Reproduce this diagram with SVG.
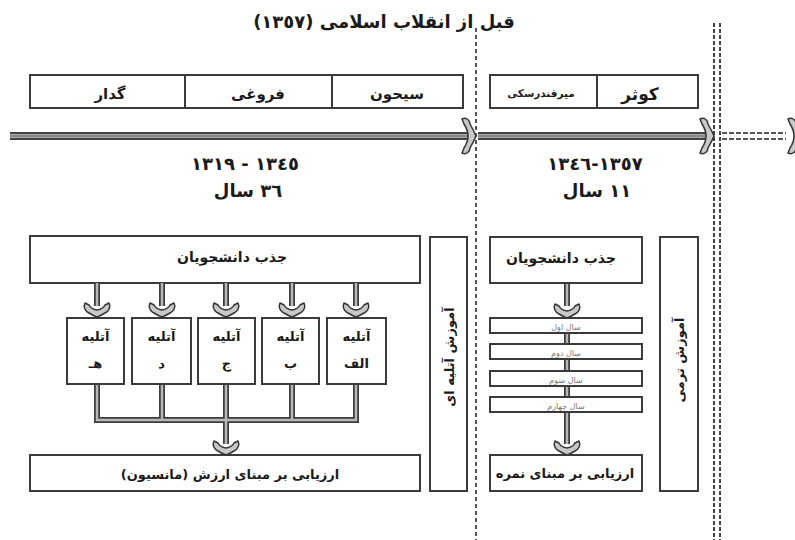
<svg xmlns="http://www.w3.org/2000/svg" xmlns:xlink="http://www.w3.org/1999/xlink" width="795" height="540" viewBox="0 0 795 540">
<style>
.box{fill:#fff;stroke:#3a3a3a;stroke-width:2}
.t{font-family:"DejaVu Sans","Noto Sans",sans-serif;font-weight:bold;fill:#1a1a1a;text-anchor:middle;direction:rtl}
.num{font-family:"DejaVu Sans","Noto Sans",sans-serif;font-weight:bold;fill:#1a1a1a;text-anchor:middle;direction:ltr;unicode-bidi:bidi-override;letter-spacing:1px}
.yr{font-family:"DejaVu Sans","Noto Sans",sans-serif;fill:#777;text-anchor:middle;direction:rtl;font-size:8px}
.po{fill:none;stroke:#3c3c3c;stroke-width:6}
.pi{fill:none;stroke:#b8b8b8;stroke-width:2.5}
.to{fill:none;stroke:#444;stroke-width:8}
.ti{fill:none;stroke:#aaa;stroke-width:4}
.tc{fill:none;stroke:#666;stroke-width:1}
.dash1{stroke:#555;stroke-width:2;stroke-dasharray:4 3;fill:none}
.dash2{stroke:#444;stroke-width:2;stroke-dasharray:4 2;fill:none}
.dashT{stroke:#555;stroke-width:2;stroke-dasharray:5 2;fill:none}
.head{fill:#c8c8c8;stroke:#333;stroke-width:1.5;stroke-linejoin:round}
</style>
<defs>
<path id="hd" class="head" d="M-12,-14 C-14,-10 -12,-6 -8,-4 Q-3,-1 0,0 Q3,-1 8,-4 C12,-6 14,-10 12,-14 L8,-12 Q6,-8 0,-7 Q-6,-8 -8,-12 Z"/>
<path id="hr" class="head" d="M-14,-17 C-10,-19 -6,-16 -6,-12 Q-2,-5 0,0 Q-2,5 -6,12 C-6,16 -10,19 -14,17 L-12,12 Q-8,6 -8,0 Q-8,-6 -12,-12 Z"/>
</defs>

<!-- title -->
<text class="t" x="384" y="28" font-size="18">قبل از انقلاب اسلامی (١٣٥٧)</text>

<!-- separators -->
<g id="separators">
<line class="dash1" x1="476" y1="28" x2="476" y2="540"/>
<line class="dash2" x1="714" y1="23" x2="714" y2="540"/>
<line class="dash2" x1="720" y1="23" x2="720" y2="540"/>
</g>

<!-- top period boxes -->
<g id="periods-left">
<rect class="box" x="30" y="75" width="433" height="33"/>
<line class="box" x1="185" y1="75" x2="185" y2="108"/>
<line class="box" x1="332" y1="75" x2="332" y2="108"/>
<text class="t" x="110" y="99" font-size="15">گدار</text>
<text class="t" x="258" y="99" font-size="15">فروغی</text>
<text class="t" x="397" y="99" font-size="15">سیحون</text>
</g>
<g id="periods-right">
<rect class="box" x="490" y="75" width="208" height="33"/>
<line class="box" x1="597" y1="75" x2="597" y2="108"/>
<text class="t" x="541" y="97" font-size="10.5">میرفندرسکی</text>
<text class="t" x="640" y="100" font-size="17">کوثر</text>
</g>

<!-- dates -->
<g id="dates-left">
<text class="num" x="245" y="170" font-size="18">١٣١٩ - ١٣٤٥</text>
<text class="t" x="248" y="197" font-size="18">٣٦ سال</text>
</g>
<g id="dates-right">
<text class="num" x="595" y="170" font-size="18">١٣٤٦-١٣٥٧</text>
<text class="t" x="597" y="197" font-size="18">١١ سال</text>
</g>

<!-- left section nodes -->
<g id="attract-left">
<rect class="box" x="30" y="236" width="390" height="47"/>
<text class="t" x="232" y="262" font-size="14">جذب دانشجویان</text>
</g>
<g id="atelier-e">
<rect class="box" x="67" y="318" width="57" height="66"/>
<text class="t" x="95.5" y="341" font-size="13">آتلیه</text>
<text class="t" x="95.5" y="368" font-size="13">هـ</text>
</g>
<g id="atelier-d">
<rect class="box" x="132" y="318" width="59" height="66"/>
<text class="t" x="161.5" y="341" font-size="13">آتلیه</text>
<text class="t" x="161.5" y="368" font-size="13">د</text>
</g>
<g id="atelier-j">
<rect class="box" x="198" y="318" width="57" height="66"/>
<text class="t" x="226.5" y="341" font-size="13">آتلیه</text>
<text class="t" x="226.5" y="368" font-size="13">ج</text>
</g>
<g id="atelier-b">
<rect class="box" x="262" y="318" width="57" height="66"/>
<text class="t" x="290.5" y="341" font-size="13">آتلیه</text>
<text class="t" x="290.5" y="368" font-size="13">ب</text>
</g>
<g id="atelier-a">
<rect class="box" x="327" y="318" width="59" height="66"/>
<text class="t" x="356.5" y="341" font-size="13">آتلیه</text>
<text class="t" x="356.5" y="368" font-size="13">الف</text>
</g>
<g id="eval-left">
<rect class="box" x="30" y="455" width="390" height="36"/>
<text class="t" x="230" y="479" font-size="13">ارزیابی بر مبنای ارزش (مانسیون)</text>
</g>
<g id="atelier-edu">
<rect class="box" x="430" y="237" width="37" height="254"/>
<text class="t" transform="translate(454,357) rotate(-90)" x="0" y="0" font-size="13">آموزش آتلیه ای</text>
</g>

<!-- connectors -->
<g id="connectors">
<!-- timeline -->
<path class="to" d="M10,136 H468"/><path class="ti" d="M10,136 H468"/><path class="tc" d="M10,136 H468"/>
<path class="to" d="M478,136 H707"/><path class="ti" d="M478,136 H707"/><path class="tc" d="M478,136 H707"/>
<use xlink:href="#hr" x="476" y="136"/>
<use xlink:href="#hr" x="714" y="136"/>
<line class="dashT" x1="722" y1="133" x2="786" y2="133"/>
<line class="dashT" x1="722" y1="139" x2="786" y2="139"/>
<use xlink:href="#hr" x="802" y="136"/>

<!-- left arrows down to ateliers -->
<path class="po" d="M97,283 V306 M162,283 V306 M226,283 V306 M292,283 V306 M356,283 V306"/>
<path class="pi" d="M97,283 V306 M162,283 V306 M226,283 V306 M292,283 V306 M356,283 V306"/>
<use xlink:href="#hd" x="97" y="317"/>
<use xlink:href="#hd" x="162" y="317"/>
<use xlink:href="#hd" x="226" y="317"/>
<use xlink:href="#hd" x="292" y="317"/>
<use xlink:href="#hd" x="356" y="317"/>
<!-- merge -->
<path class="po" d="M97,385 V420 H356 V385 M162,385 V420 M226,385 V444 M292,385 V420"/>
<path class="pi" d="M97,385 V420 H356 V385 M162,385 V420 M226,385 V444 M292,385 V420"/>
<use xlink:href="#hd" x="226" y="455"/>

<!-- right column -->
<path class="po" d="M567,283 V306 M567,333 V397 M567,413 V444"/>
<path class="pi" d="M567,283 V306 M567,333 V397 M567,413 V444"/>
<use xlink:href="#hd" x="567" y="318"/>
<use xlink:href="#hd" x="567" y="455"/>
</g>

<!-- right section nodes -->
<g id="attract-right">
<rect class="box" x="490" y="237" width="152" height="46"/>
<text class="t" x="561" y="263" font-size="14">جذب دانشجویان</text>
</g>
<g id="year-1">
<rect class="box" x="490" y="318" width="152" height="15"/>
<text class="yr" x="566" y="330">سال اول</text>
</g>
<g id="year-2">
<rect class="box" x="490" y="344" width="152" height="15"/>
<text class="yr" x="566" y="356">سال دوم</text>
</g>
<g id="year-3">
<rect class="box" x="490" y="371" width="152" height="15"/>
<text class="yr" x="566" y="383">سال سوم</text>
</g>
<g id="year-4">
<rect class="box" x="490" y="397" width="152" height="15"/>
<text class="yr" x="566" y="409">سال چهارم</text>
</g>
<g id="eval-right">
<rect class="box" x="490" y="455" width="152" height="36"/>
<text class="t" x="565" y="478" font-size="13">ارزیابی بر مبنای نمره</text>
</g>
<g id="term-edu">
<rect class="box" x="660" y="237" width="38" height="254"/>
<text class="t" transform="translate(684,360) rotate(-90)" x="0" y="0" font-size="13">آموزش ترمی</text>
</g>
</svg>
